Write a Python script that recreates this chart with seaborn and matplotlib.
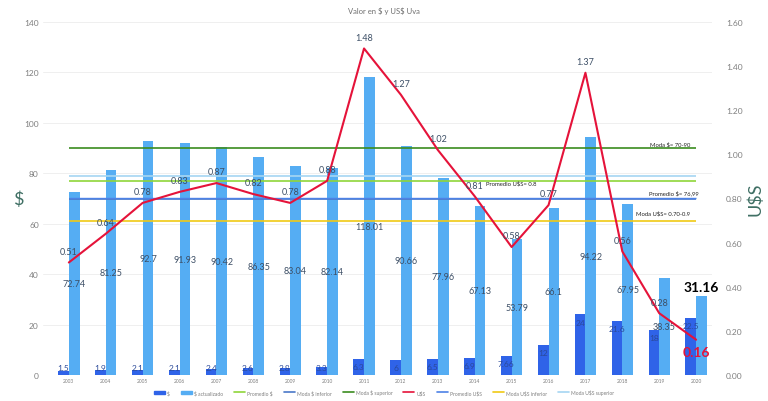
import numpy as np
import pandas as pd
import matplotlib
matplotlib.use('Agg')
import matplotlib.pyplot as plt
import seaborn as sns
from matplotlib.lines import Line2D
from matplotlib.patches import Patch

# Datos
anios = ['2003', '2004', '2005', '2006', '2007', '2008', '2009', '2010', '2011',
         '2012', '2013', '2014', '2015', '2016', '2017', '2018', '2019', '2020']
valor_pesos = [1.5, 1.9, 2.1, 2.1, 2.4, 2.6, 2.8, 3.3, 6.3,
               6, 6.5, 6.9, 7.66, 12, 24, 21.6, 18, 22.5]
valor_actualizado = [72.74, 81.25, 92.7, 91.93, 90.42, 86.35, 83.04, 82.14, 118.01,
                     90.66, 77.96, 67.13, 53.79, 66.1, 94.22, 67.95, 38.35, 31.16]
valor_usd = [0.51, 0.64, 0.78, 0.83, 0.87, 0.82, 0.78, 0.88, 1.48,
             1.27, 1.02, 0.81, 0.58, 0.77, 1.37, 0.56, 0.28, 0.16]

promedio_pesos = 76.99
moda_pesos_inf = 70
moda_pesos_sup = 90
promedio_usd = 0.8
moda_usd_inf = 0.70
moda_usd_sup = 0.9

c_pesos = '#2f63e8'
c_act = '#55adf3'
c_usd = '#e5133a'
c_prom_p = '#8fd53a'
c_moda_inf = '#4a78c8'
c_moda_sup = '#3b8c1f'
c_prom_u = '#4d82e6'
c_usd_inf = '#f0c915'
c_usd_sup = '#a6d6f2'

sns.set_theme(style='white')
plt.rcParams['font.family'] = ['Lato', 'DejaVu Sans']
plt.rcParams['text.parse_math'] = False

df = pd.DataFrame({
    'anio': anios * 2,
    'valor': valor_pesos + valor_actualizado,
    'serie': ['$'] * len(anios) + ['$ actualizado'] * len(anios),
})

fig = plt.figure(figsize=(7.68, 4.02), dpi=100)
ax = fig.add_axes([43 / 768, 26 / 402, 669 / 768, 353 / 402])
sns.barplot(data=df, x='anio', y='valor', hue='serie', order=anios,
            hue_order=['$', '$ actualizado'], palette=[c_pesos, c_act],
            width=0.58, legend=False, ax=ax, saturation=1, linewidth=0)

ax.set_xlim(-0.7, 17.43)
ax.set_ylim(0, 140)
ax.set_yticks(range(0, 141, 20))
ax.yaxis.grid(True, color='#ececec', lw=0.6)
ax.set_axisbelow(True)
for s in ax.spines.values():
    s.set_visible(False)
ax.tick_params(axis='y', labelsize=6, colors='#7f7f7f', length=0, pad=3)
ax.tick_params(axis='x', labelsize=3.5, colors='#7f7f7f', length=0, pad=2)
ax.set_xlabel('')
ax.set_ylabel('$', fontsize=13, color='#3f6f64', rotation=0, labelpad=4, va='center')

x = np.arange(len(anios))

# lineas de referencia en $
ax.hlines(moda_pesos_sup, 0, len(anios) - 1, color=c_moda_sup, lw=1.2, zorder=3)
ax.hlines(promedio_pesos, 0, len(anios) - 1, color=c_prom_p, lw=1.2, zorder=3)
ax.hlines(moda_pesos_inf, 0, len(anios) - 1, color=c_moda_inf, lw=1.2, zorder=3)

# etiquetas barras
bars_p = ax.patches[:len(anios)]
bars_a = ax.patches[len(anios):2 * len(anios)]
for i, (bp, ba) in enumerate(zip(bars_p, bars_a)):
    cx = bp.get_x() + bp.get_width() / 2
    v = valor_pesos[i]
    ax.text(cx, max(v - 3, 2.8), f'{v:g}', ha='center', va='center',
            fontsize=6, color='#2b4a9a', zorder=6)
    cx2 = ba.get_x() + ba.get_width() / 2
    va_ = valor_actualizado[i]
    if i == len(anios) - 1:
        ax.text(cx2, va_ + 1.5, f'{va_:g}', ha='center', va='bottom',
                fontsize=10, fontweight='bold', color='black', zorder=6)
    else:
        ax.text(cx2, va_ / 2, f'{va_:g}', ha='center', va='center',
                fontsize=6.5, color='#3d4f66', zorder=6)

# eje derecho US$
ax2 = ax.twinx()
ax2.set_ylim(0, 1.6)
ax2.set_yticks(np.arange(0, 1.61, 0.2))
ax2.set_yticklabels([f'{t:.2f}' for t in np.arange(0, 1.61, 0.2)])
ax2.tick_params(axis='y', labelsize=6, colors='#7f7f7f', length=0, pad=10)
for s in ax2.spines.values():
    s.set_visible(False)
ax2.grid(False)

ax2.hlines(promedio_usd, 0, len(anios) - 1, color=c_prom_u, lw=1.0, zorder=3)
ax2.hlines(moda_usd_inf, 0, len(anios) - 1, color=c_usd_inf, lw=1.2, zorder=3)
ax2.hlines(moda_usd_sup, 0, len(anios) - 1, color=c_usd_sup, lw=1.2, zorder=3)

sns.lineplot(x=x, y=valor_usd, color=c_usd, lw=1.5, ax=ax2, zorder=5)
for i, v in enumerate(valor_usd):
    if i == len(anios) - 1:
        ax2.text(x[i], v - 0.03, f'{v:g}', ha='center', va='top',
                 fontsize=10, fontweight='bold', color=c_usd, zorder=7)
    else:
        ax2.text(x[i], v + 0.03, f'{v:g}', ha='center', va='bottom',
                 fontsize=6.5, color='#3d4f66', zorder=7)
ax2.set_ylabel('U$S', fontsize=13, color='#3f6f64', labelpad=3)

# textos de las lineas
ax.text(16.3, moda_pesos_sup + 0.8, 'Moda $= 70-90', fontsize=4.2, ha='center', va='bottom', color='#222222')
ax.text(12.0, 76.2, 'Promedio U$S= 0.8', fontsize=4.2, ha='center', va='center', color='#222222')
ax.text(16.4, 72.6, 'Promedio $= 76,99', fontsize=4.2, ha='center', va='center', color='#222222')
ax.text(16.1, 64.3, 'Moda U$S= 0.70-0.9', fontsize=4.2, ha='center', va='center', color='#222222')

fig.text(0.5, 0.972, 'Valor en $ y US$ Uva', ha='center', va='center', fontsize=5.5, color='#6f6f6f')

handles = [
    Patch(color=c_pesos, label='$'),
    Patch(color=c_act, label='$ actualizado'),
    Line2D([], [], color=c_prom_p, lw=1.2, label='Promedio $'),
    Line2D([], [], color=c_moda_inf, lw=1.2, label='Moda $ inferior'),
    Line2D([], [], color=c_moda_sup, lw=1.2, label='Moda $ superior'),
    Line2D([], [], color=c_usd, lw=1.2, label='U$S'),
    Line2D([], [], color=c_prom_u, lw=1.2, label='Promedio U$S'),
    Line2D([], [], color=c_usd_inf, lw=1.2, label='Moda U$S inferior'),
    Line2D([], [], color=c_usd_sup, lw=1.2, label='Moda U$S superior'),
]
fig.legend(handles=handles, loc='center', bbox_to_anchor=(0.5, 0.022), ncol=9,
           frameon=False, fontsize=3.6, handlelength=2.2, handleheight=0.6,
           columnspacing=2.2, handletextpad=0.4, labelcolor='#7f7f7f')

fig.savefig('out.png', dpi=100)
